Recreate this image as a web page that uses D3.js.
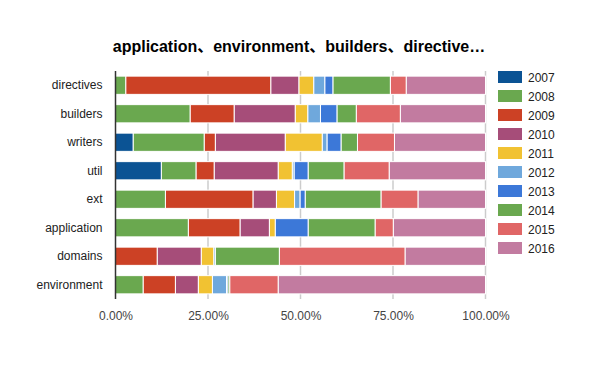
<!DOCTYPE html>
<html><head><meta charset="utf-8">
<script src="https://cdn.jsdelivr.net/npm/d3@7"></script>
<style>body{margin:0;background:#fff;}svg{display:block;font-family:"Liberation Sans",Arial,sans-serif;}</style>
</head><body><svg id="c" width="600" height="371"></svg>
<script>
const title = "application、environment、builders、directive…";
const categories = ["directives","builders","writers","util","ext","application","domains","environment"];
const years = ["2007","2008","2009","2010","2011","2012","2013","2014","2015","2016"];
const colors = ["#0b5394","#6aa84f","#cc4125","#a64d79","#f1c232","#6fa8dc","#3c78d8","#6aa84f","#e06666","#c27ba0"];
// percent share per year, one array per category
const directives  = [0, 2.8, 39.2, 7.6, 4.0, 3.0, 2.2, 15.5, 4.3, 21.4];
const builders    = [0, 20.2, 11.9, 16.5, 3.4, 3.4, 4.5, 5.2, 11.9, 23.0];
const writers     = [4.8, 19.2, 3.0, 18.9, 10.0, 1.3, 3.8, 4.4, 10.0, 24.6];
const util        = [12.4, 9.4, 4.9, 17.3, 3.8, 0.5, 3.8, 9.7, 12.2, 26.0];
const ext         = [0, 13.5, 23.7, 6.3, 4.9, 1.5, 1.4, 20.5, 10.0, 18.2];
const application = [0, 19.7, 14.0, 7.9, 1.6, 0, 8.9, 18.1, 4.9, 24.9];
const domains     = [0, 0, 11.3, 11.9, 3.4, 0.4, 0, 17.3, 34.0, 21.7];
const environment = [0, 7.5, 8.7, 6.2, 3.8, 3.8, 0.4, 0.5, 13.1, 56.0];
const xTicks = [0, 0.25, 0.5, 0.75, 1];

const rows = [directives,builders,writers,util,ext,application,domains,environment];
const table = categories.map((c,i)=>{
  const o = {cat:c}; const tot = d3.sum(rows[i]);
  years.forEach((y,j)=> o[y] = rows[i][j]/tot);
  return o;
});
const series = d3.stack().keys(years)(table);

const svg = d3.select("#c");
const L = 115.5, R = 485.5, T = 71, B = 299;
const x = d3.scaleLinear().domain([0,1]).range([L,R]);
const y = d3.scaleBand().domain(categories).range([T,B]).paddingInner(0.36).paddingOuter(0.18);

svg.append("text").attr("x",299).attr("y",51.5).attr("text-anchor","middle")
  .attr("font-size","16px").attr("font-weight","bold").attr("fill","#000")
  .attr("font-family","'Liberation Sans','Noto Sans CJK SC',sans-serif").text(title);

// gridlines
svg.append("g").selectAll("line").data(xTicks.slice(1)).join("line")
  .attr("x1",d=>x(d)).attr("x2",d=>x(d)).attr("y1",T).attr("y2",B)
  .attr("stroke","#cccccc").attr("stroke-width",1.5);

// bars
svg.append("g").selectAll("g").data(series).join("g")
  .attr("fill",(d,i)=>colors[i])
  .selectAll("rect").data(d=>d).join("rect")
  .attr("x",d=>x(d[0])).attr("y",d=>y(d.data.cat))
  .attr("width",d=>Math.max(0,x(d[1])-x(d[0])))
  .attr("height",y.bandwidth())
  .attr("stroke","#fff").attr("stroke-width",d=>(d[1]-d[0])>0?1:0);

// axis line
svg.append("line").attr("x1",L).attr("x2",L).attr("y1",T).attr("y2",B).attr("stroke","#333").attr("stroke-width",1.5);

// x axis
const xa = svg.append("g").attr("transform",`translate(0,${B})`)
  .call(d3.axisBottom(x).tickValues(xTicks).tickFormat(d3.format(".2%")).tickSize(0).tickPadding(12));
xa.select(".domain").remove();
xa.selectAll("text").attr("font-size","12px").attr("fill","#444").attr("font-family","'Liberation Sans',Arial,sans-serif");

// y axis labels
const ya = svg.append("g").attr("transform",`translate(${L-13},0)`)
  .call(d3.axisLeft(y).tickSize(0).tickPadding(0));
ya.select(".domain").remove();
ya.selectAll("text").attr("font-size","12px").attr("fill","#222").attr("font-family","'Liberation Sans',Arial,sans-serif");

// legend
const lg = svg.append("g").selectAll("g").data(years).join("g")
  .attr("transform",(d,i)=>`translate(498,${71+i*19})`);
lg.append("rect").attr("width",24).attr("height",12).attr("fill",(d,i)=>colors[i]);
lg.append("text").attr("x",30).attr("y",10.5).attr("font-size","12px").attr("fill","#222").text(d=>d);
</script></body></html>
